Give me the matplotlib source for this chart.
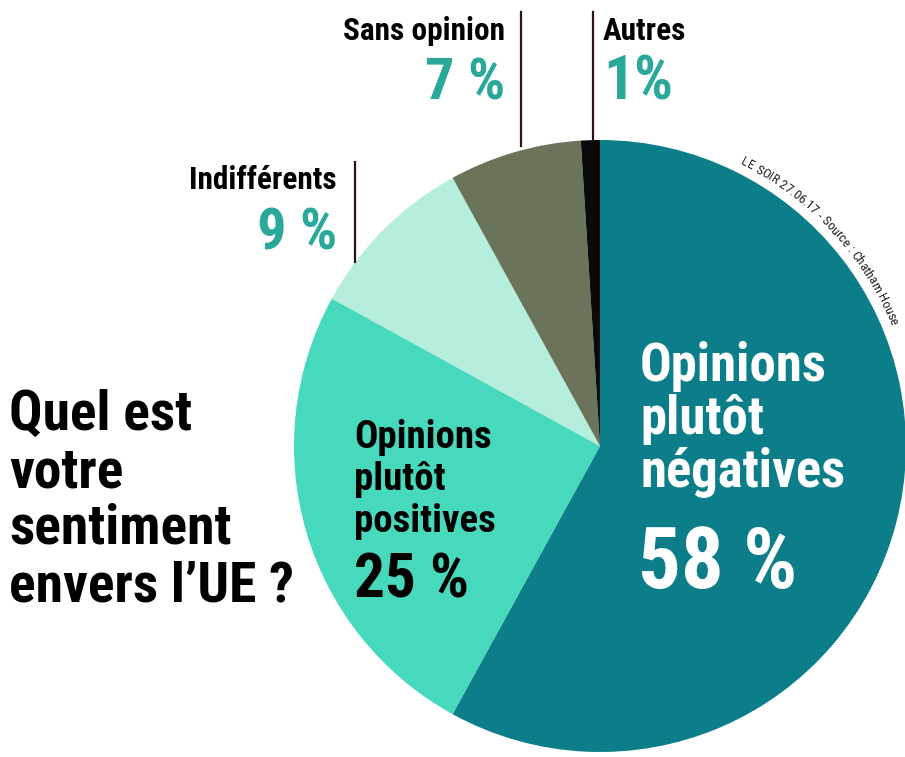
import numpy as np
import matplotlib.pyplot as plt
from matplotlib import font_manager as fm

# data
categories = ["Opinions plutôt négatives", "Opinions plutôt positives",
              "Indifférents", "Sans opinion", "Autres"]
values = [58, 25, 9, 7, 1]
colors = ["#0B7E8A", "#47D9BB", "#B6EEDD", "#69745A", "#0A0A0A"]
source = "LE SOIR 27.06.17 - Source : Chatham House"

# pick a condensed family that is installed
installed = {f.name for f in fm.fontManager.ttflist}
wanted = ["Roboto Condensed", "Fira Sans Condensed", "Barlow Semi Condensed",
          "Open Sans Condensed", "PT Sans Narrow", "Archivo Narrow",
          "Liberation Sans Narrow"]
cond = [f for f in wanted if f in installed][:1]
FONT = cond + ["DejaVu Sans"]

TEAL = "#2AA99B"
W, H = 905, 757
cx, cy, R = 600, 446, 306

fig = plt.figure(figsize=(W / 100, H / 100), dpi=100)

# pie axes: radius 1 == R pixels
ax = fig.add_axes([(cx - R) / W, (H - cy - R) / H, 2 * R / W, 2 * R / H])
ax.pie(values, colors=colors, startangle=90, counterclock=False, radius=1,
       wedgeprops=dict(linewidth=0))
ax.set_xlim(-1, 1)
ax.set_ylim(-1, 1)
ax.set_aspect("auto")
ax.axis("off")

# source text bent along the rim (advances measured large, then scaled)
renderer = fig.canvas.get_renderer()
fs_src = 9.5
fs_big = 100


def width(s):
    t = fig.text(0, 0, s, fontsize=fs_big, family=FONT)
    w = t.get_window_extent(renderer).width
    t.remove()
    return w


base = width("II")
adv = [(width("I" + c + "I") - base) * fs_src / fs_big for c in source]
r_txt = 1.04
theta0 = np.deg2rad(63.5)
pos = 0.0
for c, a in zip(source, adv):
    th = theta0 - (pos + a / 2) / (R * r_txt)
    ax.text(r_txt * np.cos(th), r_txt * np.sin(th), c, fontsize=fs_src,
            family=FONT, color="#222222",
            rotation=np.rad2deg(th) - 90, rotation_mode="anchor",
            ha="center", va="center", clip_on=False)
    pos += a

# overlay in pixel coordinates for labels
ov = fig.add_axes([0, 0, 1, 1], zorder=3)
ov.set_xlim(0, W)
ov.set_ylim(H, 0)
ov.patch.set_visible(False)
ov.axis("off")

bold = dict(family=FONT, weight="heavy")

# title
for i, line in enumerate(["Quel est", "votre", "sentiment", "envers l’UE ?"]):
    ov.text(9, 430 + i * 57, line, fontsize=40, color="black",
            va="baseline", ha="left", **bold)

# inner labels
for i, line in enumerate(["Opinions", "plutôt", "négatives"]):
    ov.text(640, 381 + i * 53, line, fontsize=38, color="white",
            va="baseline", ha="left", **bold)
ov.text(638, 588, f"{values[0]} %", fontsize=61, color="white",
        va="baseline", ha="left", **bold)

for i, line in enumerate(["Opinions", "plutôt", "positives"]):
    ov.text(354, 448 + i * 42, line, fontsize=28, color="black",
            va="baseline", ha="left", **bold)
ov.text(354, 598, f"{values[1]} %", fontsize=44, color="black",
        va="baseline", ha="left", **bold)

# outer labels with leader lines
line_c = "#2a1414"
ov.plot([355, 355], [162, 262], color=line_c, lw=1.6)
ov.plot([521, 521], [12, 146], color=line_c, lw=1.6)
ov.plot([593, 593], [12, 140], color=line_c, lw=1.6)

ov.text(337, 189, categories[2], fontsize=22.5, color="black",
        ha="right", va="baseline", **bold)
ov.text(337, 249, f"{values[2]} %", fontsize=42, color=TEAL,
        ha="right", va="baseline", **bold)

ov.text(505, 40, categories[3], fontsize=22.5, color="black",
        ha="right", va="baseline", **bold)
ov.text(505, 100, f"{values[3]} %", fontsize=42, color=TEAL,
        ha="right", va="baseline", **bold)

ov.text(603, 40, categories[4], fontsize=22.5, color="black",
        ha="left", va="baseline", **bold)
ov.text(603, 100, f"{values[4]}%", fontsize=44, color=TEAL,
        ha="left", va="baseline", **bold)

fig.savefig("out.png", dpi=100, facecolor="white")
